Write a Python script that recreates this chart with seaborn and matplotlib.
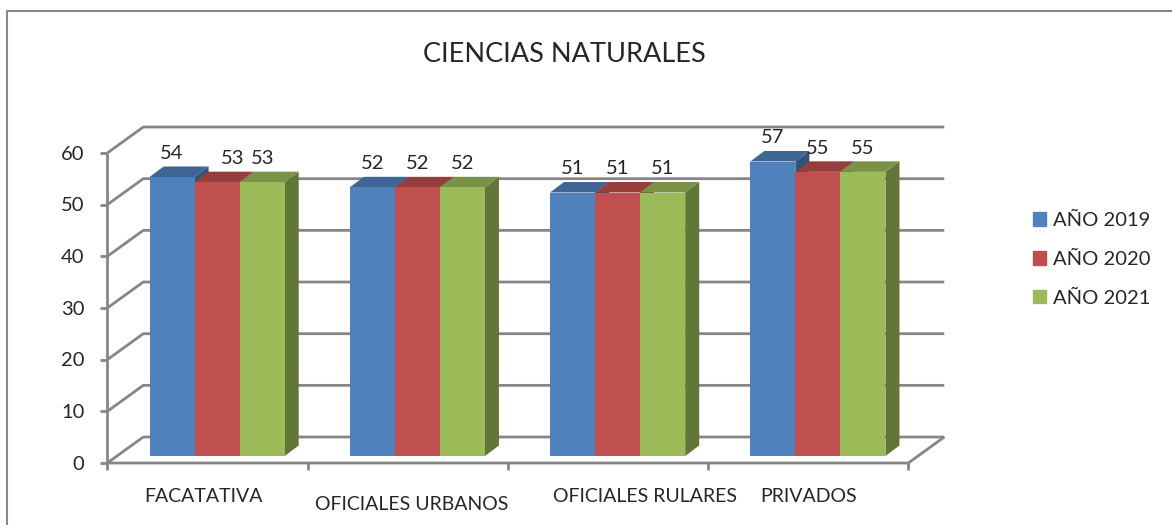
import numpy as np
import pandas as pd
import matplotlib.pyplot as plt
import seaborn as sns
from matplotlib.patches import Polygon, Patch
from matplotlib.lines import Line2D

categorias = ['FACATATIVA', 'OFICIALES URBANOS', 'OFICIALES RULARES', 'PRIVADOS']
anios = ['AÑO 2019', 'AÑO 2020', 'AÑO 2021']
anio_2019 = [54, 52, 51, 57]
anio_2020 = [53, 52, 51, 55]
anio_2021 = [53, 52, 51, 55]
y_ticks = [0, 10, 20, 30, 40, 50, 60]
titulo = 'CIENCIAS NATURALES'

colores = ['#4F81BD', '#C0504D', '#9BBB59']
gris = '#868686'

df = pd.DataFrame({
    'categoria': categorias * 3,
    'anio': [a for a in anios for _ in categorias],
    'valor': anio_2019 + anio_2020 + anio_2021,
})

sns.set_style('white')
plt.rcParams['font.family'] = ['Lato', 'DejaVu Sans']

W, H = 1172, 525
fig = plt.figure(figsize=(W / 100, H / 100), dpi=100)
# bar plane of the fake 3d box
ax_l, ax_b, ax_w, ax_h = 117, 456, 801, 310
ax = fig.add_axes([ax_l / W, (H - ax_b) / H, ax_w / W, ax_h / H])

sns.barplot(data=df, x='categoria', y='valor', hue='anio', order=categorias,
            hue_order=anios, palette=colores, width=0.675, saturation=1,
            linewidth=0, legend=False, ax=ax)
ax.set_xlim(-0.5, 3.5)
ax.set_ylim(0, 60)
ax.axis('off')

px_x = ax_w / 4.0
px_y = ax_h / 60.0
# depth offset of the box: front (d=0) -> back (d=1) in pixels
DX, DY = 36, 26
d_bar = 0.27


def pt(x, y, d):
    return (x + (DX * d - DX * d_bar) / px_x, y + (DY * d - DY * d_bar) / px_y)


def linea(pts, z=1, **kw):
    xs, ys = zip(*pts)
    ax.add_line(Line2D(xs, ys, color=gris, lw=2, clip_on=False, zorder=z,
                       solid_capstyle='butt', **kw))


# walls and gridlines
for v in y_ticks:
    linea([pt(-0.5, v, 0), pt(-0.5, v, 1), pt(3.5, v, 1)])
    x0, y0 = pt(-0.5, v, 0)
    linea([(x0, y0), (x0 - 7 / px_x, y0)])
    ax.text(x0 - 23 / px_x, y0 - 1 / px_y, str(v), ha='right', va='center',
            fontsize=14.5, clip_on=False)
linea([pt(-0.5, 0, 0), pt(-0.5, 60, 0)])
linea([pt(-0.5, 0, 0), pt(3.5, 0, 0), pt(3.5, 0, 1)])
for i in range(5):
    x0, y0 = pt(i - 0.5, 0, 0)
    linea([(x0, y0), (x0, y0 - 7 / px_y)])

# 3d faces of the bars
bdx, bdy = 14 / px_x, 10.5 / px_y
for k, cont in enumerate(ax.containers):
    base = np.array(plt.matplotlib.colors.to_rgb(colores[k]))
    for rect in cont:
        x0, w, h = rect.get_x(), rect.get_width(), rect.get_height()
        rect.set_zorder(3 + k)
        side = Polygon([(x0 + w, 0), (x0 + w, h), (x0 + w + bdx, h + bdy), (x0 + w + bdx, bdy)],
                       closed=True, color=base * 0.63, lw=0, zorder=2.9 + k, clip_on=False)
        top = Polygon([(x0, h), (x0 + w, h), (x0 + w + bdx, h + bdy), (x0 + bdx, h + bdy)],
                      closed=True, color=base * 0.78, lw=0, zorder=2.9 + k, clip_on=False)
        ax.add_patch(side)
        ax.add_patch(top)
        rect.set_clip_on(False)
    etiquetas = ax.bar_label(cont, padding=11, fontsize=14.5, zorder=10)
    if k == 1:
        # excel pushes the crowded FACATATIVA label to the right
        etiquetas[0].xyann = (11, etiquetas[0].xyann[1])

# category labels (excel staggers them a bit)
lab_dx = [-4, 4, 37, 0]
lab_y = [497, 505, 497, 497]
for i, c in enumerate(categorias):
    x0, _ = pt(i, 0, 0)
    fig.text((x0 * px_x + ax_l + 0.5 * px_x + lab_dx[i]) / W, (H - lab_y[i]) / H, c,
             ha='center', va='center', fontsize=14)

fig.text(564 / W, (H - 55) / H, titulo, ha='center', va='center', fontsize=19.5)

handles = [Patch(color=c) for c in colores]
fig.legend(handles, anios, loc='upper left', bbox_to_anchor=(1033 / W, (H - 212) / H),
           frameon=False, fontsize=14.5, handlelength=0.66, handleheight=0.66,
           handletextpad=0.33, labelspacing=1.08, borderpad=0, borderaxespad=0)

# chart border
fig.add_artist(Line2D([7 / W, 7 / W, 1], [0, (H - 10.5) / H, (H - 10.5) / H],
                      color=gris, lw=1.5, transform=fig.transFigure))

fig.savefig('out.png', dpi=100)
